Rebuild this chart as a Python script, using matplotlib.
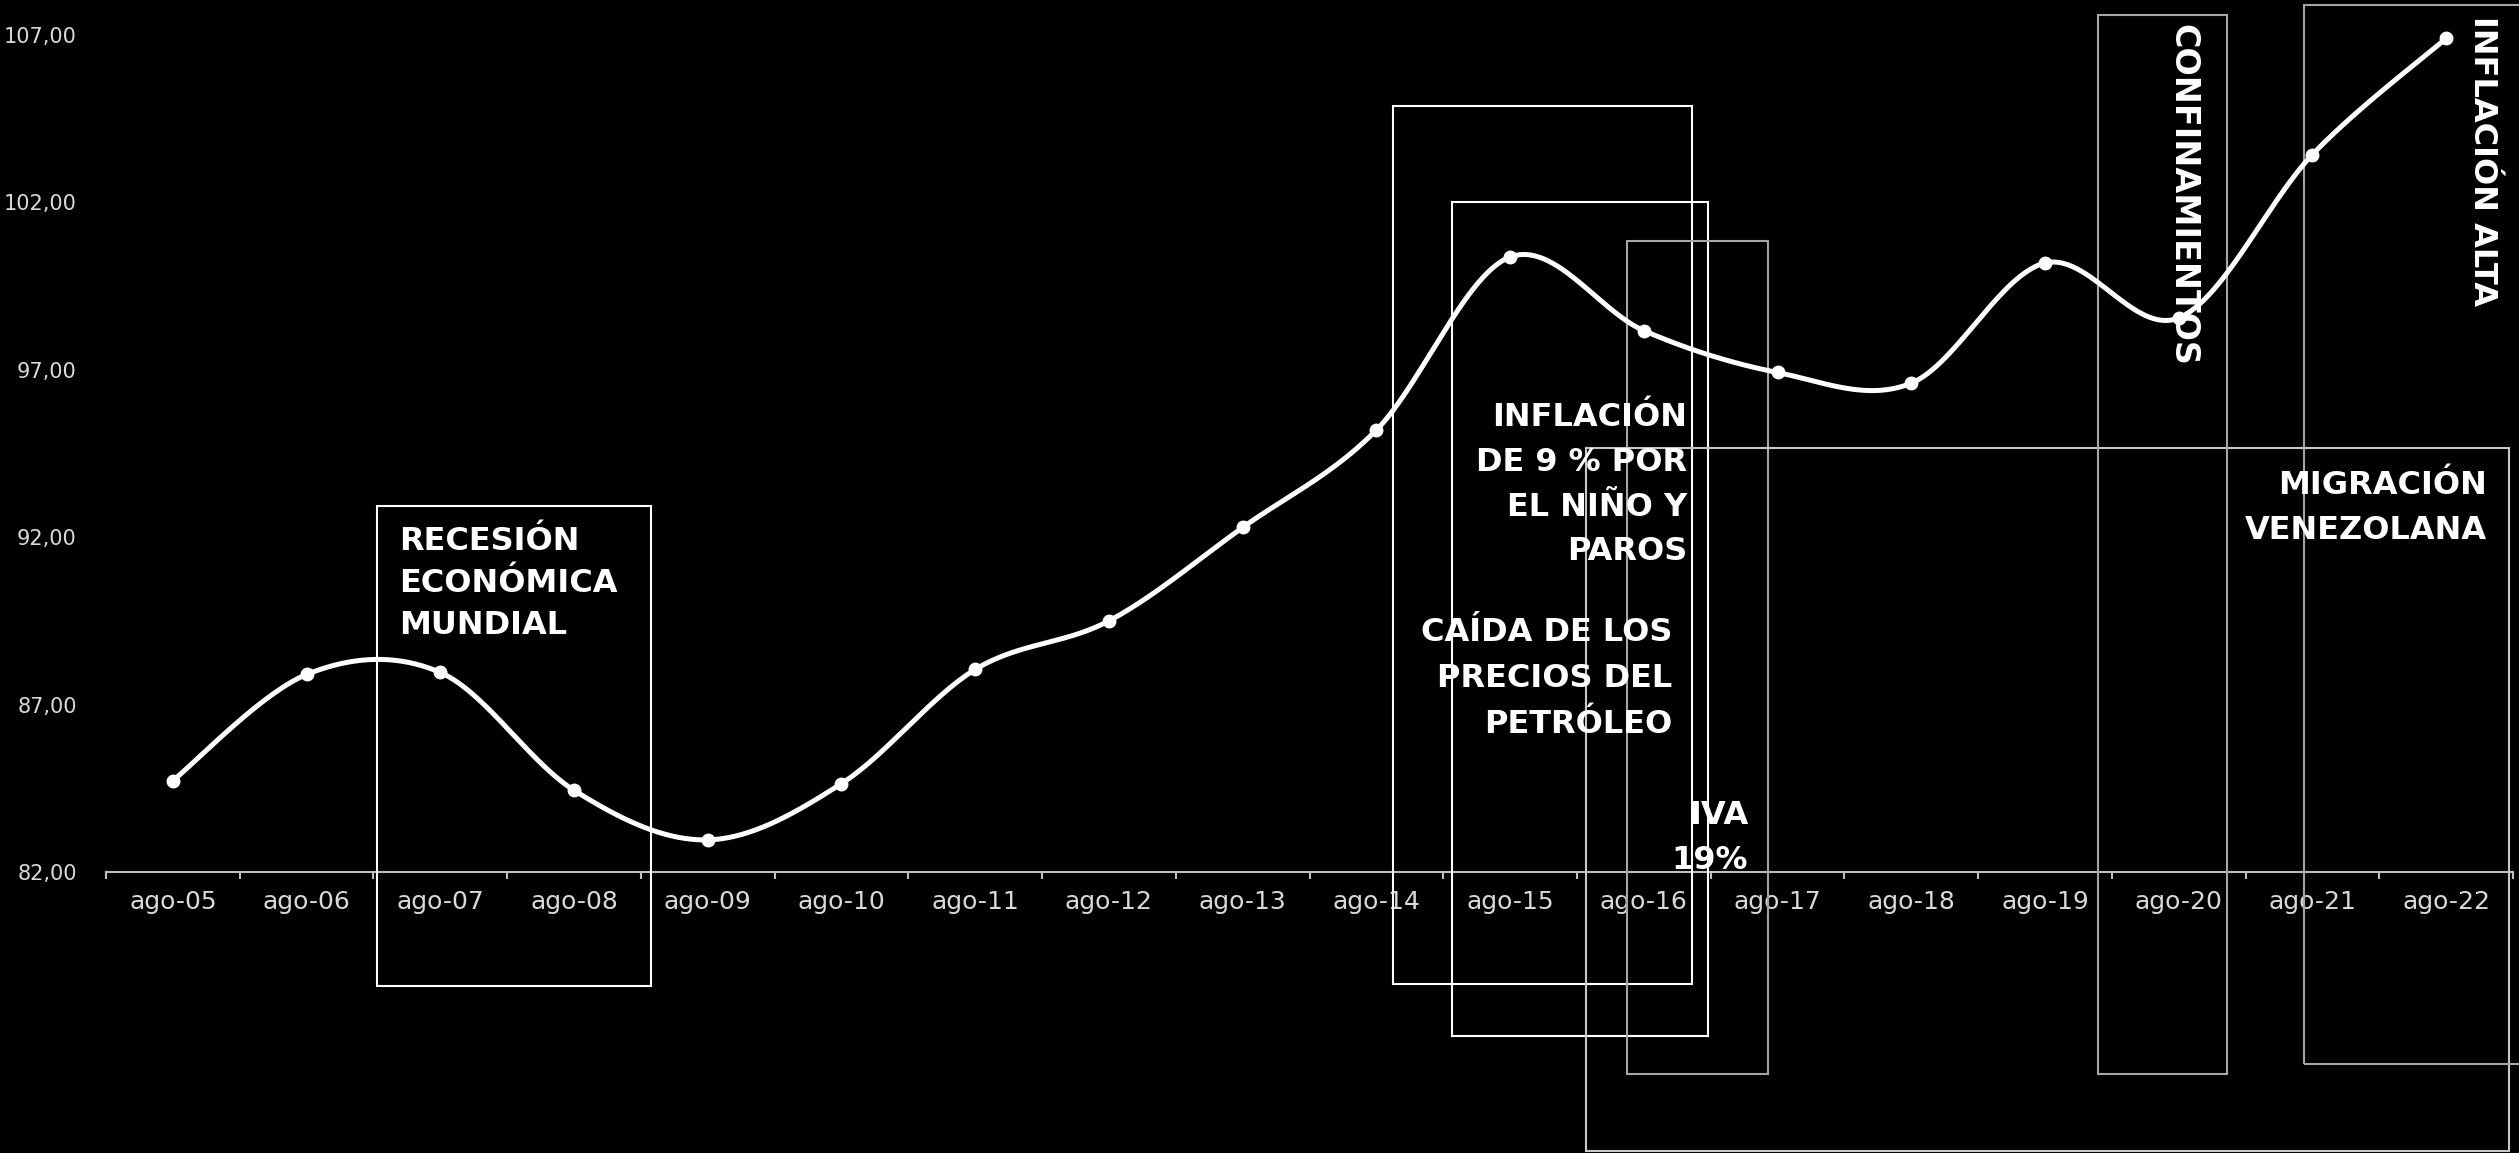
import numpy as np
import matplotlib
matplotlib.use("Agg")
import matplotlib.pyplot as plt
from matplotlib.patches import Rectangle

# ---------------- data ----------------
categories = ["ago-05", "ago-06", "ago-07", "ago-08", "ago-09", "ago-10", "ago-11",
              "ago-12", "ago-13", "ago-14", "ago-15", "ago-16", "ago-17", "ago-18",
              "ago-19", "ago-20", "ago-21", "ago-22"]
values = [84.73, 87.90, 87.96, 84.44, 82.96, 84.64, 88.05, 89.50, 92.29, 95.20,
          100.37, 98.17, 96.92, 96.60, 100.19, 98.55, 103.43, 106.90]
y_ticks = [82, 87, 92, 97, 102, 107]
y_tick_labels = ["82,00", "87,00", "92,00", "97,00", "102,00", "107,00"]

# ---------------- figure / axes geometry (pixels) ----------------
W, H = 2519, 1153
AX_L, AX_R, AX_T, AX_B = 106, 2513, 35, 872
fig = plt.figure(figsize=(W / 100, H / 100), dpi=100, facecolor="black")
ax = fig.add_axes([AX_L / W, 1 - AX_B / H, (AX_R - AX_L) / W, (AX_B - AX_T) / H])
ax.set_facecolor("black")
ax.set_xlim(-0.5, len(categories) - 0.5)
ax.set_ylim(y_ticks[0], y_ticks[-1])

def dx(px):
    return -0.5 + (px - AX_L) / (AX_R - AX_L) * len(categories)

def dy(py):
    return y_ticks[0] + (AX_B - py) / (AX_B - AX_T) * (y_ticks[-1] - y_ticks[0])

# ---------------- smoothed line (Excel-like) ----------------
xs = np.arange(len(values), dtype=float)
pts = np.column_stack([xs, np.array(values, dtype=float)])
curve = []
n = len(pts)
for i in range(n - 1):
    p0 = pts[i - 1] if i > 0 else pts[i]
    p1, p2 = pts[i], pts[i + 1]
    p3 = pts[i + 2] if i + 2 < n else pts[i + 1]
    c1 = p1 + (p2 - p0) / 6.0
    c2 = p2 - (p3 - p1) / 6.0
    t = np.linspace(0, 1, 60)[:, None]
    seg = ((1 - t) ** 3) * p1 + 3 * ((1 - t) ** 2) * t * c1 + 3 * (1 - t) * t ** 2 * c2 + t ** 3 * p2
    curve.append(seg if i == 0 else seg[1:])
curve = np.vstack(curve)
ax.plot(curve[:, 0], curve[:, 1], color="white", lw=3.6, solid_capstyle="round",
        zorder=5, clip_on=False)
ax.plot(xs, values, "o", color="white", markersize=9, zorder=6, clip_on=False)

# ---------------- axes styling ----------------
for s in ["left", "right", "top"]:
    ax.spines[s].set_visible(False)
ax.spines["bottom"].set_color("#bfbfbf")
ax.spines["bottom"].set_linewidth(1.5)
ax.set_xticks(xs)
ax.set_xticklabels(categories)
ax.set_xticks(np.arange(-0.5, len(categories), 1.0), minor=True)
ax.tick_params(axis="x", which="major", length=0, pad=13, labelsize=18, labelcolor="#d9d9d9")
ax.tick_params(axis="x", which="minor", length=5, width=1.5, color="#bfbfbf", direction="out")
ax.set_yticks(y_ticks)
ax.set_yticklabels(y_tick_labels)
ax.tick_params(axis="y", length=0, pad=21, labelsize=15, labelcolor="#d9d9d9")

# ---------------- annotation boxes (pixel readings -> data coords) ----------------
boxes = [  # (left, top, right, bottom) in px, colour
    ((377, 506, 651, 986), "white"),
    ((1393, 106, 1692, 984), "white"),
    ((1452, 202, 1708, 1036), "white"),
    ((1627, 241, 1768, 1074), "#a6a6a6"),
    ((1586, 448, 2509, 1151), "#c8c8c8"),
    ((2098, 15, 2227, 1074), "#a6a6a6"),
    ((2304, 5, 2600, 1064), "#a6a6a6"),
]
for (l, t, r, b), col in boxes:
    x0, x1 = dx(l), dx(r)
    y0, y1 = dy(b), dy(t)
    ax.add_patch(Rectangle((x0, y0), x1 - x0, y1 - y0, fill=False, edgecolor=col,
                           lw=1.5, clip_on=False, zorder=3))

# ---------------- annotation texts ----------------
FS = 23
def lines(txts, x, baselines, ha):
    for s, b in zip(txts, baselines):
        ax.text(dx(x), dy(b), s, ha=ha, va="baseline", color="white", fontsize=FS,
                fontweight="bold", clip_on=False, zorder=7)

lines(["RECESIÓN", "ECONÓMICA", "MUNDIAL"], 399, [550, 592, 634], "left")
lines(["INFLACIÓN", "DE 9 % POR", "EL NIÑO Y", "PAROS"], 1687, [426, 471, 516, 560], "right")
lines(["CAÍDA DE LOS", "PRECIOS DEL", "PETRÓLEO"], 1672, [641, 687, 733], "right")
lines(["IVA", "19%"], 1748, [824, 869], "right")
lines(["MIGRACIÓN", "VENEZOLANA"], 2487, [494, 539], "right")

ax.text(dx(2183), dy(24), "CONFINAMIENTOS", rotation=-90, ha="center", va="top",
        color="white", fontsize=24, fontweight="bold", clip_on=False, zorder=7)
ax.text(dx(2482), dy(16), "INFLACIÓN ALTA", rotation=-90, ha="center", va="top",
        color="white", fontsize=23, fontweight="bold", clip_on=False, zorder=7)

fig.savefig("out.png", dpi=100, facecolor="black")
